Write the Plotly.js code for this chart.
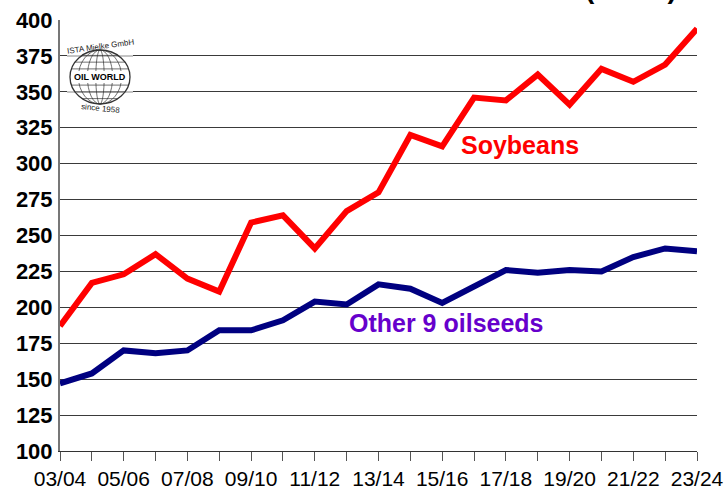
<!DOCTYPE html>
<html>
<head>
<meta charset="utf-8">
<script src="https://cdn.plot.ly/plotly-3.0.1.min.js"></script>
<style>html,body{margin:0;padding:0;background:#fff;}#chart{width:726px;height:491px;}</style>
</head>
<body>
<div id="chart"></div>
<script>
var seasons = ["03/04","04/05","05/06","06/07","07/08","08/09","09/10","10/11","11/12","12/13","13/14","14/15","15/16","16/17","17/18","18/19","19/20","20/21","21/22","22/23","23/24"];
var soybeans = [187, 217, 223, 237, 220, 211, 259, 264, 241, 267, 280, 320, 312, 346, 344, 362, 341, 366, 357, 369, 394];
var otherOilseeds = [147, 154, 170, 168, 170, 184, 184, 191, 204, 202, 216, 213, 203, 214, 226, 224, 226, 225, 235, 241, 239];
var tickLabels = seasons.map(function(s, i){ return i % 2 === 0 ? s : ""; });
var yTicks = [100,125,150,175,200,225,250,275,300,325,350,375,400];
var soyLabel = "Soybeans";
var otherLabel = "Other 9 oilseeds";

var FONT = "Liberation Sans, Arial, sans-serif";
var L = 60, T = 20, W = 637, H = 431;
function px(x){ return (x - L) / W; }
function py(y){ return (T + H - y) / H; }

var traces = [
  {x: seasons, y: soybeans, type: "scatter", mode: "lines", name: soyLabel,
   line: {color: "#ff0000", width: 6}},
  {x: seasons, y: otherOilseeds, type: "scatter", mode: "lines", name: otherLabel,
   line: {color: "#000080", width: 6}}
];

// logo shapes
var shapes = [];
var cx = 100, cy = 77, rx = 30, ry = 27;
shapes.push({type:"rect", xref:"paper", yref:"paper", x0:px(67), x1:px(133), y0:py(116), y1:py(40), fillcolor:"#ffffff", line:{width:0}, layer:"above"});
shapes.push({type:"line", xref:"paper", yref:"paper", x0:px(67), x1:px(133), y0:py(56), y1:py(56), line:{color:"#888", width:1}, layer:"above"});
shapes.push({type:"line", xref:"paper", yref:"paper", x0:px(67), x1:px(133), y0:py(92), y1:py(92), line:{color:"#888", width:1}, layer:"above"});
[1, 0.72, 0.42, 0.14].forEach(function(f){
  shapes.push({type:"circle", xref:"paper", yref:"paper", x0:px(cx - rx*f), x1:px(cx + rx*f), y0:py(cy + ry), y1:py(cy - ry), line:{color:"#333", width: f===1?1.3:0.7}, layer:"above"});
});
[-0.8,-0.55,-0.3,0.3,0.55,0.8].forEach(function(f){
  var yy = cy + ry*f;
  var half = rx*Math.sqrt(1 - f*f);
  shapes.push({type:"line", xref:"paper", yref:"paper", x0:px(cx-half), x1:px(cx+half), y0:py(yy), y1:py(yy), line:{color:"#333", width:0.7}, layer:"above"});
});
shapes.push({type:"rect", xref:"paper", yref:"paper", x0:px(72), x1:px(128), y0:py(83), y1:py(71), fillcolor:"#ffffff", line:{width:0}, layer:"above"});

function ann(x, y, text, size, color, extra){
  var a = {xref:"paper", yref:"paper", x:px(x), y:py(y), xanchor:"center", yanchor:"middle",
           text:text, showarrow:false, font:{family:FONT, size:size, color:color}};
  if (extra) for (var k in extra) a[k] = extra[k];
  return a;
}

var annotations = [
  ann(520, 145, "<b>"+soyLabel+"</b>", 25, "#ff0000"),
  ann(446, 323, "<b>"+otherLabel+"</b>", 25, "#6600cc"),
  ann(100, 77, "<b>OIL WORLD</b>", 9, "#000"),
  ann(101, 47, "ISTA Mielke GmbH", 8, "#222", {textangle: -8}),
  ann(100, 109, "since 1958", 8, "#222", {textangle: 6}),
  ann(631, 6, "<b>(mill. t)</b>", 28, "#000", {yanchor:"bottom"})
];

var layout = {
  width: 726, height: 491,
  margin: {l: L, r: 726 - L - W, t: T, b: 491 - T - H, pad: 0},
  paper_bgcolor: "#ffffff", plot_bgcolor: "#ffffff",
  showlegend: false,
  xaxis: {
    type: "category", range: [0, seasons.length - 1],
    tickmode: "array", tickvals: seasons, ticktext: tickLabels,
    ticks: "outside", ticklen: 9, tickwidth: 1, tickcolor: "#555",
    showgrid: false, zeroline: false,
    showline: true, linecolor: "#333", linewidth: 1,
    tickfont: {family: FONT, size: 21, color: "#000"},
    tickangle: 0, automargin: false
  },
  yaxis: {
    range: [100, 400], tickmode: "array", tickvals: yTicks,
    ticks: "", showgrid: true, gridcolor: "#3a3a3a", gridwidth: 1,
    zeroline: false, showline: true, linecolor: "#777", linewidth: 2,
    tickfont: {family: FONT, size: 22, color: "#000", weight: "bold"},
    ticklabelstandoff: 1, automargin: false
  },
  shapes: shapes,
  annotations: annotations
};

Plotly.newPlot("chart", traces, layout, {staticPlot: true, displayModeBar: false});
</script>
</body>
</html>
